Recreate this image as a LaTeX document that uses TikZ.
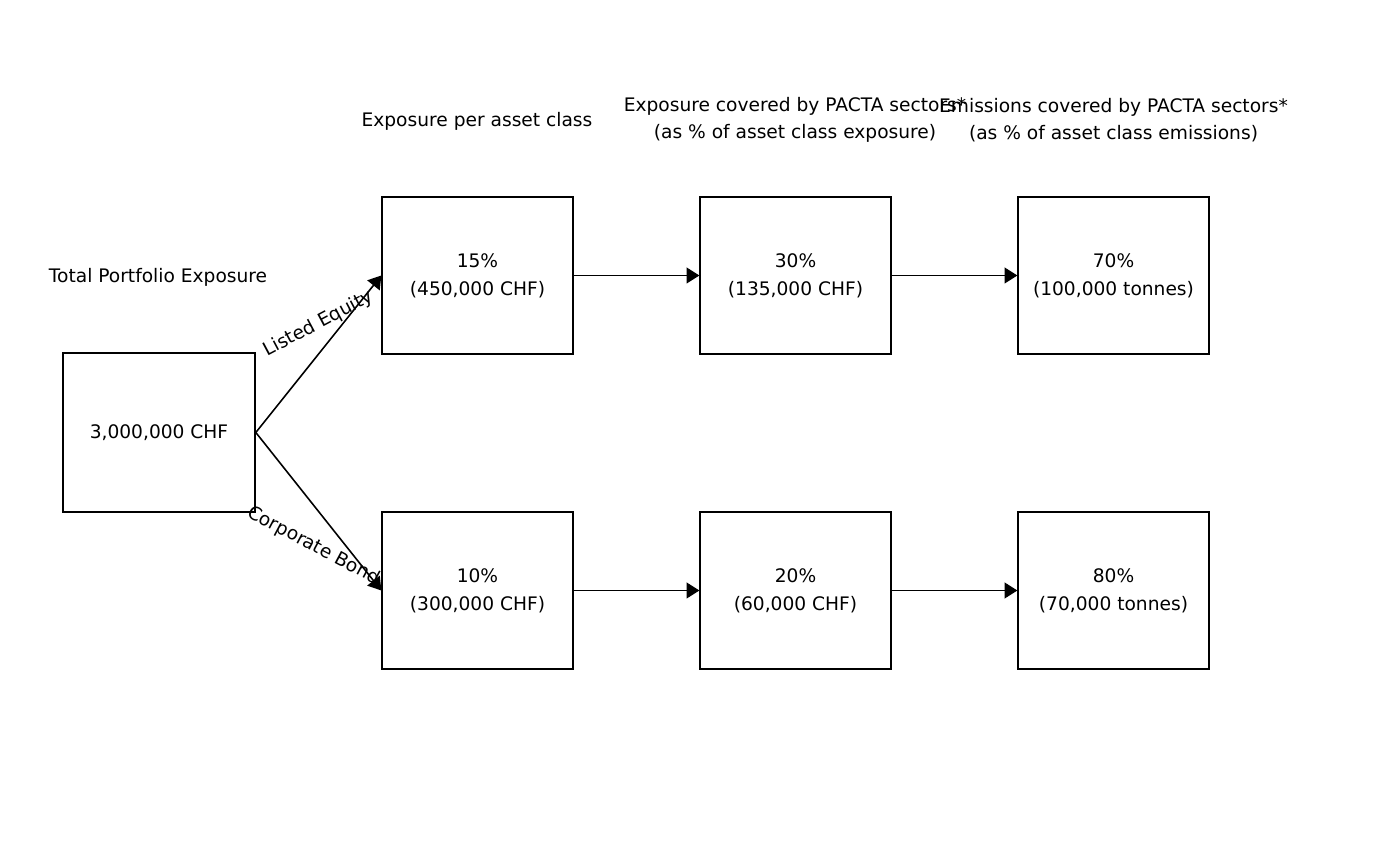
\documentclass[tikz,border=0pt]{standalone}
\usepackage{fontspec}
\setmainfont{DejaVu Sans}
\usetikzlibrary{arrows.meta}
\tikzset{every node/.style={font=\fontsize{10.6}{15.3}\selectfont, align=center, inner sep=0pt},
  box/.style={draw, line width=0.75pt, minimum width=3.82cm, minimum height=3.14cm, font=\fontsize{10.6}{16}\selectfont},
  flow/.style={-{Triangle[length=7.2pt,width=9pt]}, line width=0.6pt}}

\begin{document}
\begin{tikzpicture}
  \useasboundingbox (0,0) rectangle (28,17.32);
  % headers
  \node (thead) at (3.16,11.78) {Total Portfolio Exposure};
  \node (ahead) at (9.54,14.90) {Exposure per asset class};
  \node (phead) at (15.9,14.92) {Exposure covered by PACTA sectors*\\(as \% of asset class exposure)};
  \node (ehead) at (22.27,14.92) {Emissions covered by PACTA sectors*\\(as \% of asset class emissions)};
  % boxes
  \node[box, line width=0.95pt, minimum width=3.84cm, minimum height=3.18cm] (total) at (3.18,8.67) {3,000,000 CHF};
  \node[box] (eq)   at ( 9.55,11.81) {15\%\\(450,000 CHF)};
  \node[box] (eqp)  at (15.91,11.81) {30\%\\(135,000 CHF)};
  \node[box] (eqe)  at (22.27,11.81) {70\%\\(100,000 tonnes)};
  \node[box] (cb)   at ( 9.55, 5.51) {10\%\\(300,000 CHF)};
  \node[box] (cbp)  at (15.91, 5.51) {20\%\\(60,000 CHF)};
  \node[box] (cbe)  at (22.27, 5.51) {80\%\\(70,000 tonnes)};
  % connectors
  \draw[flow, line width=0.9pt] (total.east) -- (eq.west);
  \draw[flow, line width=0.9pt] (total.east) -- (cb.west);
  \draw[flow] (eq) -- (eqp);
  \draw[flow] (eqp) -- (eqe);
  \draw[flow] (cb) -- (cbp);
  \draw[flow] (cbp) -- (cbe);
  \node[rotate=28]  (eqlab) at (6.37,10.84) {Listed Equity};
  \node[rotate=-28] (cblab) at (6.27, 6.40) {Corporate Bond};
\end{tikzpicture}
\end{document}
